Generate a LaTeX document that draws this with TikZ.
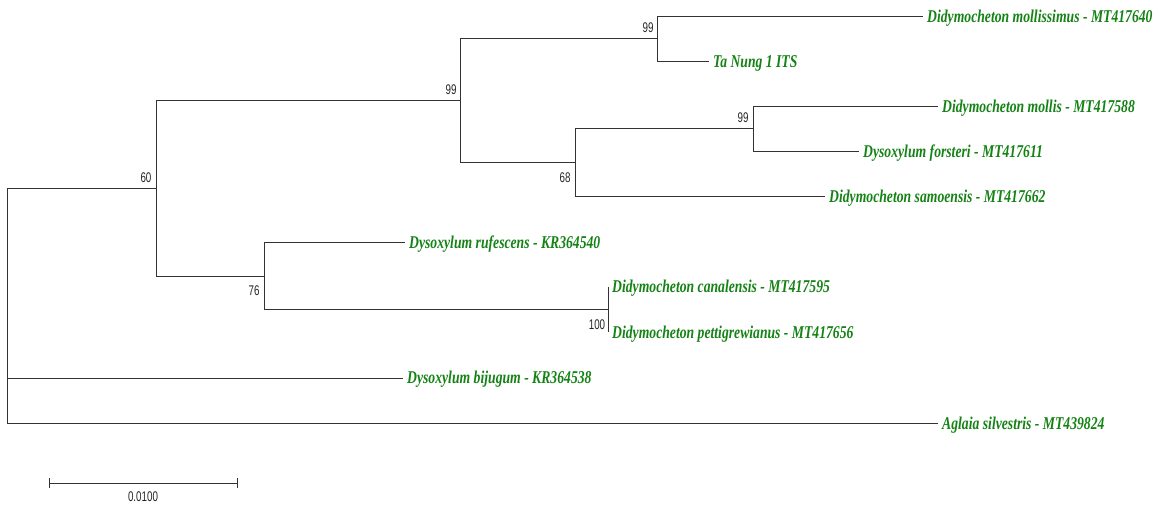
\documentclass[tikz,border=0pt]{standalone}
\usepackage{fontspec}
\setmainfont{Liberation Serif}
\newfontfamily\leaffont[FakeStretch=0.76]{Liberation Serif}
\newfontfamily\numfont[FakeStretch=0.7]{Liberation Sans}
\definecolor{leafgreen}{RGB}{20,130,20}
\begin{document}
\begin{tikzpicture}[x=1pt,y=-1pt,
  branch/.style={draw=black!80, line width=1pt},
  leaf/.style={anchor=west, inner ysep=0pt, inner xsep=4pt, text height=12pt, text depth=0pt,
     text=leafgreen, font=\leaffont\fontsize{18}{18}\selectfont\bfseries\itshape},
  boot/.style={inner sep=0pt, font=\numfont\fontsize{14}{14}\selectfont, text=black!85}]
\useasboundingbox (0,0) rectangle (1163,505);
% internal nodes
\coordinate (root) at (7,306);
\coordinate (n60) at (156,189);
\coordinate (n99a) at (460,101);
\coordinate (n99b) at (657,39);
\coordinate (n68) at (575,163);
\coordinate (n99c) at (753,129);
\coordinate (n76) at (264,277);
\coordinate (n100) at (608,310);
% leaves
\node[leaf] (mollissimus) at (923,17) {Didymocheton mollissimus - MT417640};
\node[leaf] (tanung) at (709,62) {Ta Nung 1 ITS};
\node[leaf] (mollis) at (938,107) {Didymocheton mollis - MT417588};
\node[leaf] (forsteri) at (859,152) {Dysoxylum forsteri - MT417611};
\node[leaf] (samoensis) at (825,197) {Didymocheton samoensis - MT417662};
\node[leaf] (rufescens) at (405,243) {Dysoxylum rufescens - KR364540};
\node[leaf] (canalensis) at (608,287) {Didymocheton canalensis - MT417595};
\node[leaf] (pettig) at (608,332) {Didymocheton pettigrewianus - MT417656};
\node[leaf] (bijugum) at (403,378) {Dysoxylum bijugum - KR364538};
\node[leaf] (aglaia) at (938,423) {Aglaia silvestris - MT439824};
% branches
\draw[branch] (root) |- (n60);
\draw[branch] (root) |- (bijugum.west);
\draw[branch] (root) |- (aglaia.west);
\draw[branch] (n60) |- (n99a);
\draw[branch] (n60) |- (n76);
\draw[branch] (n99a) |- (n99b);
\draw[branch] (n99a) |- (n68);
\draw[branch] (n99b) |- (mollissimus.west);
\draw[branch] (n99b) |- (tanung.west);
\draw[branch] (n68) |- (n99c);
\draw[branch] (n68) |- (samoensis.west);
\draw[branch] (n99c) |- (mollis.west);
\draw[branch] (n99c) |- (forsteri.west);
\draw[branch] (n76) |- (rufescens.west);
\draw[branch] (n76) |- (n100);
\draw[branch] (n100) |- (canalensis.west);
\draw[branch] (n100) |- (pettig.west);
% bootstrap values
\node[boot] (b60) at ([shift={(-10,-11)}]n60) {60};
\node[boot] (b99a) at ([shift={(-9,-11)}]n99a) {99};
\node[boot] (b99b) at ([shift={(-9,-11)}]n99b) {99};
\node[boot] (b99c) at ([shift={(-10,-11)}]n99c) {99};
\node[boot] (b68) at ([shift={(-10,15)}]n68) {68};
\node[boot] (b76) at ([shift={(-10,14)}]n76) {76};
\node[boot] (b100) at ([shift={(-11,15)}]n100) {100};
% scale bar
\coordinate (sbl) at (49,483);
\coordinate (sbr) at (237,483);
\draw[branch] (sbl) -- (sbr);
\draw[branch] ([yshift=-5]sbl) -- ([yshift=5]sbl);
\draw[branch] ([yshift=-5]sbr) -- ([yshift=5]sbr);
\node[boot] (sblabel) at (143,497) {0.0100};
\end{tikzpicture}
\end{document}
